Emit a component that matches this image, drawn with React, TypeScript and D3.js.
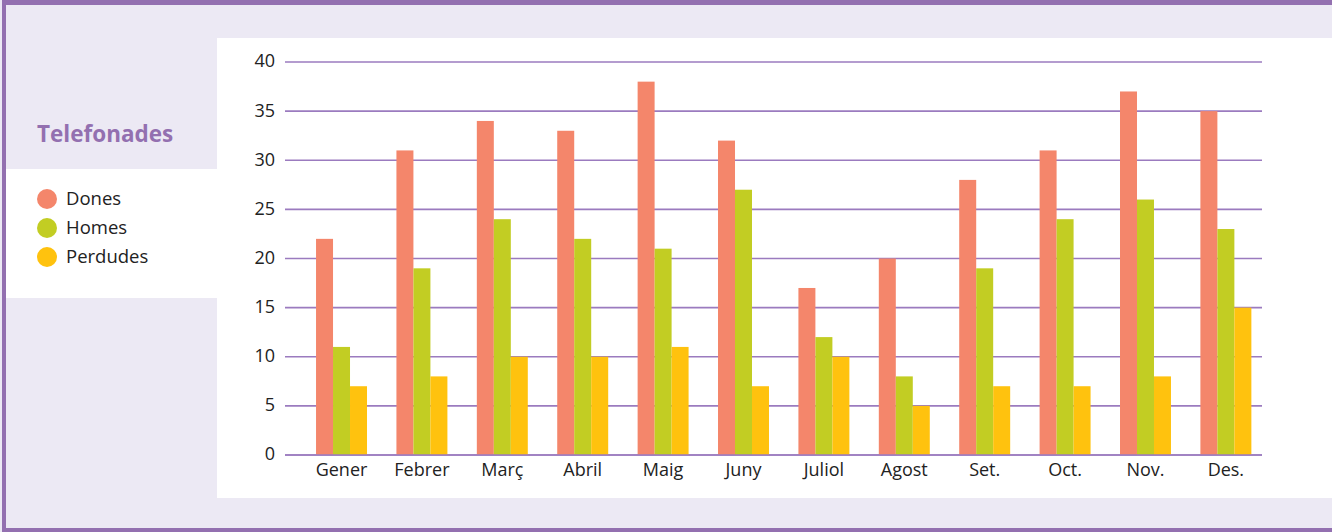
import React from "react";
import * as d3 from "d3";

const months = ["Gener", "Febrer", "Març", "Abril", "Maig", "Juny", "Juliol", "Agost", "Set.", "Oct.", "Nov.", "Des."];
const dones = [22, 31, 34, 33, 38, 32, 17, 20, 28, 31, 37, 35];
const homes = [11, 19, 24, 22, 21, 27, 12, 8, 19, 24, 26, 23];
const perdudes = [7, 8, 10, 10, 11, 7, 10, 5, 7, 7, 8, 15];
const seriesNames = ["Dones", "Homes", "Perdudes"];
const seriesColors = ["#f4866b", "#c2cd23", "#ffc20e"];
const yTicks = [0, 5, 10, 15, 20, 25, 30, 35, 40];

const W = 1332;
const H = 532;
const FONT = "'Open Sans', 'Noto Sans', sans-serif";

export default function App() {
  const series = [dones, homes, perdudes];
  const y = d3.scaleLinear().domain([0, 40]).range([455, 62]);
  const x0 = d3
    .scaleBand<string>()
    .domain(months)
    .range([285, 1282.4])
    .paddingInner(0.366)
    .paddingOuter(0.386);
  const x1 = d3
    .scaleBand<string>()
    .domain(seriesNames)
    .range([0, x0.bandwidth()]);
  const gridX0 = 285;
  const gridX1 = 1262;

  return (
    <div style={{ position: "fixed", left: 0, top: 0 }}>
      <svg width={W} height={H} style={{ display: "block" }}>
        <rect x={0} y={0} width={W} height={H} fill="#ece9f4" />
        {/* borders */}
        <rect x={2} y={0} width={W - 2} height={5} fill="#9370b0" />
        <rect x={2} y={0} width={4} height={H} fill="#9370b0" />
        <rect x={2} y={528} width={W - 2} height={4} fill="#9370b0" />
        {/* white panels */}
        <rect x={217} y={38} width={W - 217} height={460} fill="#ffffff" />
        <rect x={6} y={169} width={211} height={129} fill="#ffffff" />

        {/* title */}
        <text x={37} y={142} fill="#9370b0" fontFamily={FONT} fontWeight={700} fontSize={22.5}>
          Telefonades
        </text>

        {/* legend */}
        {seriesNames.map((n, i) => (
          <g key={n}>
            <circle cx={47} cy={199 + i * 29} r={10} fill={seriesColors[i]} />
            <text x={66} y={199 + i * 29} dy="0.35em" fontFamily={FONT} fontSize={18.5} fill="#222">
              {n}
            </text>
          </g>
        ))}

        {/* gridlines */}
        {yTicks.map((t) => (
          <g key={t}>
            <line
              x1={gridX0}
              x2={gridX1}
              y1={y(t)}
              y2={y(t)}
              stroke="#9b7bbf"
              strokeWidth={1.6}
            />
            <text
              x={275}
              y={y(t)}
              dy="0.3em"
              textAnchor="end"
              fontFamily={FONT}
              fontSize={18}
              fill="#222"
            >
              {t}
            </text>
          </g>
        ))}

        {/* bars */}
        {months.map((m, mi) => (
          <g key={m} transform={`translate(${x0(m)},0)`}>
            {series.map((s, si) => (
              <rect
                key={si}
                x={x1(seriesNames[si])}
                y={y(s[mi])}
                width={x1.bandwidth()}
                height={y(0) - y(s[mi])}
                fill={seriesColors[si]}
              />
            ))}
          </g>
        ))}

        {/* baseline */}
        <line x1={gridX0} x2={gridX1} y1={y(0)} y2={y(0)} stroke="#9b7bbf" strokeWidth={1.6} />

        {/* x labels */}
        {months.map((m) => (
          <text
            key={m}
            x={(x0(m) as number) + x0.bandwidth() / 2}
            y={476}
            textAnchor="middle"
            fontFamily={FONT}
            fontSize={18}
            fill="#222"
          >
            {m}
          </text>
        ))}
      </svg>
    </div>
  );
}
